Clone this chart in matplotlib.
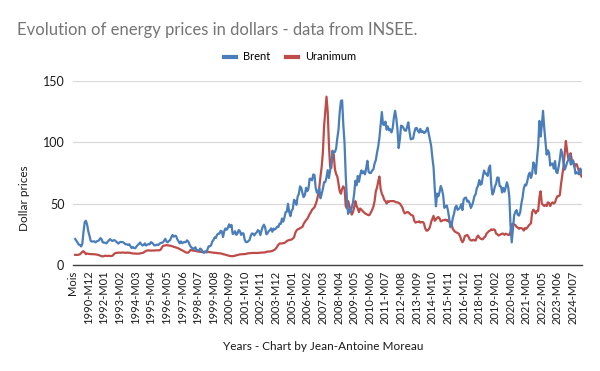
import numpy as np
import matplotlib
matplotlib.use('Agg')
import matplotlib.pyplot as plt

#############################################################
''' Data (monthly values, 1990-M01 .. 2025-M02) '''

first_year = 1990
first_month = 1

brent = [
    21.2, 19.8, 18.4, 16.6, 16.4, 15.1, 17.2, 27.2, 34.9, 36.0, 32.8, 27.3,   # 1990
    23.6, 19.5, 19.1, 19.2, 19.2, 18.4, 19.3, 19.6, 20.2, 21.9, 21.0, 18.4,   # 1991
    18.2, 18.1, 17.6, 18.9, 19.9, 21.1, 20.2, 19.5, 20.2, 20.1, 19.2, 18.2,   # 1992
    17.4, 18.5, 18.8, 18.6, 18.5, 17.7, 16.8, 16.9, 16.3, 16.9, 15.4, 13.8,   # 1993
    14.6, 13.8, 13.6, 15.0, 16.2, 17.0, 18.3, 16.9, 15.9, 16.3, 17.6, 15.9,   # 1994
    16.5, 17.0, 16.9, 18.6, 18.1, 17.0, 15.9, 16.1, 16.6, 16.2, 17.1, 17.9,   # 1995
    18.1, 18.4, 19.9, 21.3, 19.0, 18.5, 19.6, 20.3, 22.6, 24.4, 23.0, 23.8,   # 1996
    23.5, 20.9, 19.2, 17.6, 19.2, 17.7, 18.4, 18.6, 18.6, 20.1, 19.2, 17.0,   # 1997
    15.1, 14.1, 13.1, 13.4, 14.4, 12.1, 12.0, 11.9, 13.4, 12.6, 10.9, 9.8,    # 1998
    11.1, 10.3, 12.5, 15.2, 15.3, 15.9, 19.0, 20.3, 22.5, 22.0, 24.6, 25.5,   # 1999
    25.5, 27.8, 27.3, 22.8, 27.6, 29.8, 28.7, 30.2, 33.1, 30.9, 32.6, 25.3,   # 2000
    25.6, 27.5, 24.5, 25.6, 28.4, 27.7, 24.5, 25.8, 25.7, 20.5, 18.7, 18.6,   # 2001
    19.4, 20.3, 23.7, 25.7, 25.4, 24.1, 25.7, 26.6, 28.4, 27.5, 24.3, 28.0,   # 2002
    31.2, 32.8, 30.4, 25.0, 25.8, 27.6, 28.4, 29.8, 27.1, 29.6, 28.8, 29.8,   # 2003
    31.2, 30.9, 33.8, 33.4, 37.9, 35.2, 38.4, 43.0, 43.4, 49.8, 43.1, 39.7,   # 2004
    44.3, 45.6, 53.1, 51.9, 49.0, 55.6, 57.9, 64.0, 62.8, 58.5, 55.2, 56.9,   # 2005
    62.9, 60.0, 62.1, 70.3, 70.0, 68.9, 73.7, 73.2, 62.8, 58.9, 59.1, 62.3,   # 2006
    54.3, 57.8, 62.1, 67.4, 67.5, 71.3, 77.2, 70.8, 77.1, 82.9, 92.5, 91.5,   # 2007
    92.0, 94.8, 103.3, 110.4, 124.6, 133.5, 134.0, 113.9, 99.1, 72.8, 53.2, 41.6,  # 2008
    44.9, 43.2, 47.0, 50.8, 57.9, 68.6, 64.9, 72.5, 67.7, 73.2, 77.0, 74.7,   # 2009
    76.2, 73.8, 78.8, 84.8, 75.9, 74.8, 75.0, 77.0, 77.8, 82.7, 85.3, 91.4,   # 2010
    96.5, 103.7, 114.6, 124.5, 114.5, 113.9, 116.7, 110.1, 112.8, 109.6, 110.5, 107.9,  # 2011
    111.2, 119.7, 125.5, 119.8, 110.3, 95.2, 102.6, 113.4, 113.0, 111.5, 109.5, 109.2,  # 2012
    112.3, 116.1, 108.5, 102.3, 102.6, 102.9, 107.9, 111.3, 111.6, 109.1, 107.8, 110.8,  # 2013
    108.1, 108.9, 107.5, 107.8, 109.5, 111.8, 106.8, 101.6, 97.1, 87.4, 79.4, 62.3,  # 2014
    47.8, 58.1, 55.9, 59.5, 64.3, 61.5, 56.6, 46.5, 47.6, 48.4, 44.3, 38.0,   # 2015
    30.7, 32.2, 38.2, 41.6, 46.7, 48.3, 44.9, 45.8, 46.6, 49.5, 44.7, 53.3,   # 2016
    54.6, 54.9, 51.6, 52.3, 50.3, 46.4, 48.5, 51.7, 56.2, 57.5, 62.7, 64.4,   # 2017
    69.1, 65.3, 66.0, 72.1, 76.9, 74.4, 74.3, 72.5, 78.9, 81.0, 64.8, 57.4,   # 2018
    59.4, 64.0, 66.1, 71.2, 71.1, 64.2, 63.9, 59.0, 62.8, 59.7, 63.2, 67.3,   # 2019
    63.7, 55.5, 32.0, 18.4, 29.4, 40.3, 43.2, 44.7, 40.9, 40.2, 42.7, 49.9,   # 2020
    54.8, 62.3, 65.4, 64.8, 68.5, 73.2, 75.2, 70.8, 74.5, 83.5, 80.9, 74.3,   # 2021
    86.5, 97.1, 117.3, 104.6, 113.3, 125.5, 111.9, 100.5, 89.8, 93.3, 91.4, 80.9,  # 2022
    82.5, 82.6, 78.4, 84.6, 75.5, 74.8, 80.1, 86.2, 94.0, 90.6, 82.9, 77.6,   # 2023
    80.1, 83.5, 85.4, 89.9, 81.8, 82.6, 85.2, 80.9, 74.3, 75.6, 74.4, 73.8,   # 2024
    78.5, 75.2,                                                               # 2025
]

uranium = [
    8.3, 8.2, 8.2, 8.4, 8.8, 9.6, 10.8, 11.2, 10.2, 8.8, 9.4, 9.0,            # 1990
    9.0, 8.8, 8.9, 8.7, 8.8, 8.6, 8.5, 8.2, 8.0, 7.5, 7.2, 7.0,               # 1991
    7.2, 7.6, 7.4, 7.3, 7.5, 7.4, 7.3, 7.5, 8.5, 9.5, 9.8, 9.9,               # 1992
    10.0, 10.1, 10.0, 10.1, 10.2, 10.0, 9.9, 10.1, 10.0, 10.0, 9.8, 9.6,      # 1993
    9.4, 9.3, 9.3, 9.2, 9.2, 9.3, 9.4, 9.6, 9.8, 10.2, 10.8, 11.5,            # 1994
    11.8, 11.9, 11.8, 11.7, 11.8, 11.8, 11.8, 11.9, 12.0, 11.9, 12.0, 12.4,   # 1995
    14.0, 15.5, 15.8, 15.9, 16.2, 16.0, 15.9, 15.7, 15.5, 15.2, 14.8, 14.5,   # 1996
    14.2, 13.9, 13.5, 13.0, 12.5, 11.9, 11.4, 10.8, 10.3, 10.0, 10.1, 11.0,   # 1997
    12.3, 12.0, 11.7, 11.6, 11.5, 11.3, 11.0, 10.8, 10.8, 10.6, 10.6, 10.6,   # 1998
    10.6, 10.5, 10.5, 10.6, 10.5, 10.3, 10.2, 10.0, 9.9, 9.9, 9.7, 9.6,       # 1999
    9.5, 9.4, 9.2, 8.8, 8.6, 8.4, 8.0, 7.8, 7.5, 7.3, 7.2, 7.2,               # 2000
    7.3, 7.6, 7.9, 8.1, 8.4, 8.6, 8.7, 8.8, 8.8, 8.9, 9.1, 9.3,               # 2001
    9.5, 9.6, 9.7, 9.8, 9.8, 9.8, 9.8, 9.8, 9.8, 9.9, 10.0, 10.1,             # 2002
    10.1, 10.2, 10.3, 10.7, 10.9, 11.0, 11.0, 11.2, 11.5, 12.0, 12.5, 13.5,   # 2003
    15.0, 16.5, 17.5, 17.5, 17.5, 17.8, 18.0, 18.5, 19.5, 20.0, 20.3, 20.5,   # 2004
    20.8, 21.5, 22.5, 26.0, 28.0, 29.0, 29.3, 30.0, 30.5, 31.0, 33.5, 35.0,   # 2005
    36.5, 37.5, 39.5, 41.5, 43.0, 45.0, 46.0, 47.0, 49.5, 52.5, 57.0, 63.0,   # 2006
    72.0, 80.0, 92.0, 113.0, 125.0, 137.0, 125.0, 98.0, 80.0, 79.0, 93.0, 90.0,  # 2007
    78.0, 74.0, 72.0, 66.0, 60.0, 58.0, 62.0, 64.0, 62.0, 48.0, 46.0, 52.0,   # 2008
    48.0, 45.0, 41.0, 43.0, 47.0, 52.0, 48.0, 46.0, 43.0, 46.0, 45.0, 44.0,   # 2009
    43.0, 42.0, 41.5, 41.0, 40.5, 41.0, 43.0, 45.0, 47.5, 52.0, 60.0, 63.0,   # 2010
    68.0, 72.0, 62.0, 58.0, 56.0, 53.0, 52.0, 50.0, 52.0, 51.5, 52.0, 52.0,   # 2011
    52.0, 52.0, 51.5, 51.0, 51.0, 50.5, 50.0, 48.5, 47.0, 44.0, 42.0, 42.5,   # 2012
    43.0, 43.0, 42.0, 41.0, 40.5, 40.0, 36.0, 34.5, 35.0, 35.0, 35.5, 34.5,   # 2013
    35.0, 35.0, 34.0, 30.0, 28.0, 28.0, 29.0, 31.0, 35.0, 37.5, 40.0, 36.0,   # 2014
    37.0, 38.5, 39.0, 38.0, 35.5, 36.0, 36.5, 36.5, 37.0, 36.0, 36.5, 35.0,   # 2015
    35.0, 33.0, 29.5, 28.0, 27.0, 26.5, 26.0, 25.5, 23.5, 20.5, 18.5, 20.0,   # 2016
    23.5, 24.0, 24.5, 23.0, 21.0, 20.0, 20.0, 20.5, 20.0, 20.0, 22.5, 24.0,   # 2017
    22.5, 21.5, 21.0, 21.0, 22.5, 23.0, 25.5, 26.5, 27.5, 28.0, 29.0, 28.5,   # 2018
    29.0, 28.5, 25.5, 25.0, 24.0, 24.5, 25.0, 25.5, 25.5, 24.5, 25.5, 25.0,   # 2019
    24.5, 24.5, 27.0, 33.0, 33.5, 33.0, 32.5, 31.0, 30.5, 29.5, 30.0, 30.0,   # 2020
    29.5, 28.0, 30.0, 29.5, 30.5, 32.0, 33.0, 34.0, 43.0, 45.0, 44.0, 42.0,   # 2021
    44.0, 44.0, 55.0, 60.0, 50.0, 49.0, 48.0, 49.0, 48.0, 51.0, 50.5, 48.0,   # 2022
    50.0, 51.0, 50.0, 51.0, 54.0, 56.0, 56.0, 57.0, 66.0, 73.0, 80.0, 91.0,   # 2023
    101.0, 93.0, 87.0, 88.0, 91.0, 85.0, 84.0, 80.0, 82.0, 82.0, 79.0, 76.0,  # 2024
    75.0, 72.0,                                                               # 2025
]

title = 'Evolution of energy prices in dollars - data from INSEE.'
xtitle = 'Years - Chart by Jean-Antoine Moreau'
ytitle = 'Dollar prices'

#############################################################
''' Categories: Excel-like axis, first category is the header "Mois" '''

# category 0 = "Mois", category 1 = 1989-M12, then one per month
categories = ['Mois']
y, m = 1989, 12
for k in range(423):
    categories.append('{}-M{:02d}'.format(y, m))
    m += 1
    if m > 12:
        m = 1
        y += 1

offset = categories.index('{}-M{:02d}'.format(first_year, first_month))
x = np.arange(len(brent)) + offset

label_step = 13
tick_pos = np.arange(0, len(categories), label_step)
tick_lab = [categories[i] for i in tick_pos]

#############################################################
''' Plot '''

plt.rcParams['font.family'] = ['Lato', 'DejaVu Sans']

fig = plt.figure(figsize=(6, 3.71), dpi=100)
ax = fig.add_axes([72.7/600, 1-265/371, (581.5-72.7)/600, (265-80.7)/371])

ax.plot(x, brent, color='#4a7ebb', lw=1.6, label='Brent', zorder=3)
ax.plot(x, uranium, color='#be4b48', lw=1.6, label='Uranimum', zorder=2)

ax.set_xlim(0, len(categories)-1)
ax.set_ylim(0, 150)
ax.set_yticks([0, 50, 100, 150])
ax.grid(axis='y', color='#d9d9d9', lw=0.9)
ax.set_axisbelow(True)

for s in ['top', 'right', 'left']:
    ax.spines[s].set_visible(False)
ax.spines['bottom'].set_color('#404040')
ax.spines['bottom'].set_linewidth(1.0)

ax.set_xticks(tick_pos)
ax.set_xticklabels(tick_lab, rotation=90, fontsize=8, color='#1a1a1a')
ax.tick_params(axis='x', length=0, pad=4)
ax.tick_params(axis='y', length=0, pad=6, labelsize=9, colors='#1a1a1a')

fig.text(17/600, 1-30/371, title, fontsize=12, color='#757575', va='center', ha='left')
fig.text(25/600, 1-198/371, ytitle, rotation=90, fontsize=8.5, color='#1a1a1a', va='center', ha='center')
fig.text(323/600, 1-346/371, xtitle, fontsize=8.5, color='#1a1a1a', va='center', ha='center')

leg = fig.legend(loc='center', bbox_to_anchor=(290/600, 1-57/371), ncol=2, frameon=False,
                 fontsize=8, handlelength=1.1, handletextpad=0.6, columnspacing=1.4)
for h in leg.get_lines():
    h.set_linewidth(3)

plt.savefig('out.png', dpi=100)
